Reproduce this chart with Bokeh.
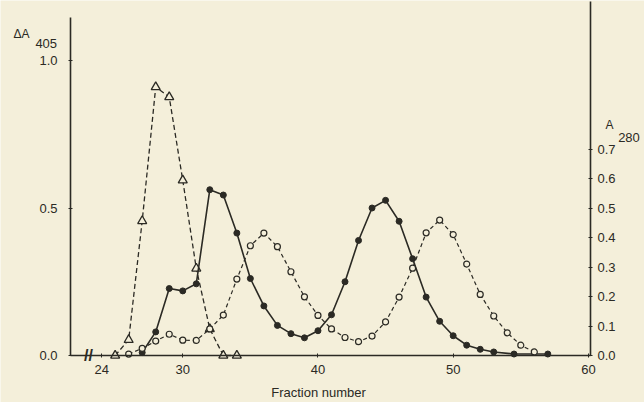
from bokeh.plotting import figure
from bokeh.models import Range1d, LinearAxis, FixedTicker, Label, PrintfTickFormatter
from bokeh.embed import file_html
from bokeh.resources import INLINE

# ---- data ----
tri_fraction = [25, 26, 27, 28, 29, 30, 31, 32, 33, 34]
tri_dA405 = [0.0, 0.053, 0.456, 0.91, 0.876, 0.594, 0.295, 0.09, 0.0, 0.0]

filled_fraction = [27, 28, 29, 30, 31, 32, 33, 34, 35, 36, 37, 38, 39, 40, 41, 42,
                   43, 44, 45, 46, 47, 48, 49, 50, 51, 52, 53, 54.5, 57]
filled_A280 = [0.01, 0.08, 0.227, 0.219, 0.243, 0.562, 0.544, 0.415, 0.261, 0.168,
               0.102, 0.074, 0.06, 0.084, 0.138, 0.25, 0.39, 0.50, 0.526, 0.455,
               0.328, 0.198, 0.116, 0.067, 0.035, 0.021, 0.012, 0.005, 0.005]

open_fraction = [26, 27, 28, 29, 30, 31, 32, 33, 34, 35, 36, 37, 38, 39, 40, 41, 42,
                 43, 44, 45, 46, 47, 48, 49, 50, 51, 52, 53, 54, 55, 56]
open_A280 = [0.005, 0.024, 0.049, 0.072, 0.052, 0.051, 0.09, 0.137, 0.259, 0.372,
             0.415, 0.369, 0.284, 0.199, 0.136, 0.09, 0.061, 0.047, 0.066, 0.114,
             0.198, 0.296, 0.416, 0.459, 0.41, 0.31, 0.207, 0.134, 0.077, 0.035, 0.012]

x_ticks = [24, 30, 40, 50, 60]
left_ticks = [0.0, 0.5, 1.0]
right_ticks = [0.0, 0.1, 0.2, 0.3, 0.4, 0.5, 0.6, 0.7]

X_MIN, X_MAX = 21.7, 60.15      # extent of the drawn x axis
Y_LEFT_TOP, Y_RIGHT_TOP = 1.146, 1.2   # extent of the drawn y axes

INK = "#2b2a24"
PAPER = "#f4efda"
FONT = "Liberation Sans"

# whole canvas is the frame; axes are drawn at fixed data locations with bounds
p = figure(width=644, height=402,
           x_range=Range1d(16.52, 64.15), y_range=Range1d(-0.1593, 1.2034),
           output_backend="svg", toolbar_location=None, min_border=0,
           x_axis_location=None, y_axis_location=None)
p.extra_y_ranges = {"a280": Range1d(-0.1593, 1.2034)}
p.background_fill_color = PAPER
p.border_fill_color = PAPER
p.outline_line_color = None
p.grid.visible = False

def style_axis(ax):
    ax.axis_line_color = INK
    ax.axis_line_width = 1.6
    ax.major_tick_line_color = INK
    ax.major_tick_in = 2
    ax.major_tick_out = 2
    ax.minor_tick_line_color = None
    ax.major_label_text_font = FONT
    ax.major_label_text_font_size = "13px"
    ax.major_label_text_color = INK

xa = LinearAxis(ticker=FixedTicker(ticks=x_ticks), fixed_location=0.0,
                bounds=(X_MIN, X_MAX))
style_axis(xa)
xa.major_label_standoff = 7
p.add_layout(xa, "below")

ya = LinearAxis(ticker=FixedTicker(ticks=left_ticks), fixed_location=X_MIN,
                bounds=(0.0, Y_LEFT_TOP), formatter=PrintfTickFormatter(format="%.1f"))
style_axis(ya)
ya.major_label_standoff = 11
p.add_layout(ya, "left")

ra = LinearAxis(y_range_name="a280", ticker=FixedTicker(ticks=right_ticks),
                fixed_location=X_MAX, bounds=(0.0, Y_RIGHT_TOP),
                formatter=PrintfTickFormatter(format="%.1f"))
style_axis(ra)
ra.major_label_standoff = 5
p.add_layout(ra, "right")

# series
p.line(tri_fraction, tri_dA405, line_color=INK, line_width=1.3, line_dash="5 3")
p.scatter(tri_fraction, tri_dA405, marker="triangle", size=9, line_color=INK,
          line_width=1.3, fill_color=PAPER)

p.line(open_fraction, open_A280, y_range_name="a280", line_color=INK, line_width=1.2,
       line_dash="4 3")
p.line(filled_fraction, filled_A280, y_range_name="a280", line_color=INK, line_width=1.6)
p.scatter(filled_fraction, filled_A280, y_range_name="a280", marker="circle", size=6,
          line_color=INK, fill_color=INK)
p.scatter(open_fraction, open_A280, y_range_name="a280", marker="circle", size=6,
          line_color=INK, line_width=1.2, fill_color=PAPER)

# axis titles and axis break mark
def add_text(x, y, t, size, align="left", baseline="alphabetic", style="normal"):
    p.add_layout(Label(x=x, y=y, text=t, text_font=FONT, text_font_size=size,
                       text_color=INK, text_align=align, text_baseline=baseline,
                       text_font_style=style))

add_text(17.48, 1.0915, "ΔA", "12px")
add_text(19.1, 1.0576, "405", "13px")
add_text(61.26, 0.78, "A", "12px")
add_text(62.2, 0.739, "280", "13px")
add_text(40.04, -0.124, "Fraction number", "13px", align="center")
add_text(23.03, 0.0, "//", "16px", align="center", baseline="middle", style="bold")

open("out.html", "w").write(file_html(p, INLINE))
